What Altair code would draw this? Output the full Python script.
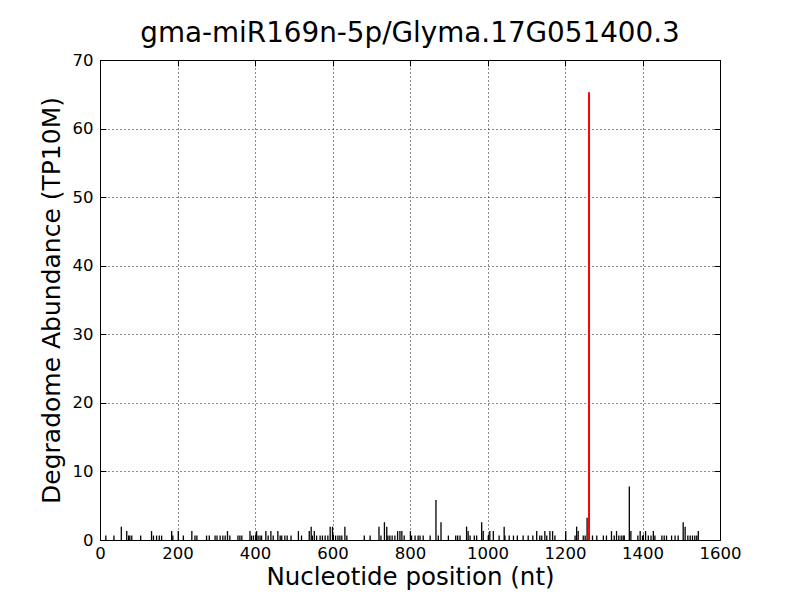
import altair as alt
import pandas as pd

# Degradome tags: nucleotide position and abundance (TP10M)
positions = [15, 36, 55, 69, 74, 77, 82, 105, 133, 138, 146, 153, 159, 185, 188, 202, 215,
             237, 245, 250, 275, 282, 297, 302, 310, 317, 323, 329, 335, 356, 361, 366,
             387, 391, 396, 404, 408, 413, 417, 428, 434, 441, 447, 459, 465, 469, 477,
             483, 493, 512, 520, 540, 545, 548, 553, 559, 568, 574, 581, 588, 594, 600,
             608, 614, 619, 624, 632, 637, 682, 697, 720, 725, 734, 740, 743, 748, 754,
             761, 768, 774, 779, 785, 801, 804, 813, 821, 826, 834, 852, 867, 873, 880,
             899, 918, 923, 929, 946, 950, 955, 966, 972, 985, 989, 1002, 1006, 1015,
             1030, 1043, 1045, 1056, 1067, 1077, 1092, 1105, 1117, 1127, 1135, 1140,
             1148, 1153, 1161, 1168, 1174, 1202, 1226, 1230, 1234, 1247, 1252, 1257,
             1271, 1282, 1299, 1307, 1320, 1327, 1333, 1339, 1345, 1350, 1353, 1366,
             1370, 1388, 1394, 1400, 1408, 1415, 1422, 1428, 1432, 1450, 1456, 1462,
             1475, 1484, 1492, 1505, 1510, 1517, 1523, 1529, 1535, 1540, 1544]
abundance = [0.65, 0.65, 1.95, 1.3, 0.65, 0.65, 0.65, 0.65, 1.3, 0.65, 0.65, 0.65, 0.65, 1.3, 0.65, 1.3, 0.65,
             1.3, 0.65, 0.65, 0.65, 0.65, 0.65, 0.65, 0.65, 0.65, 0.65, 1.3, 0.65, 0.65, 0.65, 0.65,
             1.3, 0.65, 0.65, 1.3, 0.65, 0.65, 0.65, 1.3, 0.65, 1.3, 0.65, 1.3, 0.65, 0.65, 0.65,
             0.65, 0.65, 1.3, 0.65, 1.3, 1.95, 0.65, 1.3, 0.65, 0.65, 0.65, 0.65, 0.65, 1.95, 1.95,
             0.65, 0.65, 0.65, 0.65, 1.95, 0.65, 0.65, 0.65, 1.95, 0.65, 2.6, 1.95, 0.65, 0.65, 0.65,
             0.65, 1.3, 1.3, 1.3, 0.65, 1.3, 0.65, 0.65, 0.65, 0.65, 0.65, 0.65, 5.85, 0.65, 2.6,
             0.65, 0.65, 0.65, 0.65, 1.95, 1.3, 0.65, 0.65, 0.65, 2.6, 1.3, 0.65, 1.3, 1.3,
             0.65, 1.95, 0.65, 0.65, 0.65, 0.65, 0.65, 0.65, 0.65, 1.3, 0.65, 0.65,
             1.3, 0.65, 1.3, 1.3, 0.65, 1.3, 0.65, 1.95, 1.3, 0.65, 0.65, 3.25,
             0.65, 0.65, 0.65, 0.65, 1.3, 0.65, 1.3, 0.65, 0.65, 0.65, 0.65, 7.8,
             1.3, 0.65, 1.3, 0.65, 1.3, 0.65, 0.65, 1.3, 0.65, 0.65, 0.65, 0.65,
             0.65, 0.65, 0.65, 2.6, 1.95, 0.65, 0.65, 0.65, 0.65, 0.65, 1.3]

# miRNA cleavage site
target_pos = [1262]
target_abund = [65.3]

x_ticks = [0, 200, 400, 600, 800, 1000, 1200, 1400, 1600]
y_ticks = [0, 10, 20, 30, 40, 50, 60, 70]

FONT = "DejaVu Sans"

tags = pd.DataFrame({"pos": positions, "abund": abundance})
site = pd.DataFrame({"pos": target_pos, "abund": target_abund})

xscale = alt.Scale(domain=[0, 1600], nice=False, zero=False)
yscale = alt.Scale(domain=[0, 70], nice=False)

grid_kw = dict(grid=True, gridColor="black", gridDash=[1, 3], gridOpacity=0.9, gridWidth=1)

x_bottom = alt.Axis(orient="bottom", values=x_ticks, format="d", offset=-6, tickSize=6,
                    tickColor="black", domain=False, labelFont=FONT, labelFontSize=16.5,
                    labelColor="black", labelPadding=5, labelFlush=False, labelOverlap=False,
                    title="Nucleotide position (nt)", titleFont=FONT, titleFontSize=24.5,
                    titleFontWeight="normal", titleColor="black", titlePadding=4, **grid_kw)
y_left = alt.Axis(orient="left", values=y_ticks, format="d", offset=-6, tickSize=6,
                  tickColor="black", domain=False, labelFont=FONT, labelFontSize=16.5,
                  labelColor="black", labelPadding=7, labelFlush=False, labelOverlap=False,
                  title="Degradome Abundance (TP10M)", titleFont=FONT, titleFontSize=25,
                  titleFontWeight="normal", titleColor="black", titlePadding=8, **grid_kw)
x_top = alt.Axis(orient="top", values=x_ticks, offset=-6, tickSize=6, tickColor="black",
                 domain=False, labels=False, grid=False, title=None)
y_right = alt.Axis(orient="right", values=y_ticks, offset=-6, tickSize=6, tickColor="black",
                   domain=False, labels=False, grid=False, title=None)

black_bars = alt.Chart(tags).mark_rule(color="black", strokeWidth=1.3).encode(
    x=alt.X("pos:Q", scale=xscale, axis=x_bottom),
    y=alt.Y("abund:Q", scale=yscale, axis=y_left),
    y2=alt.datum(0),
)

red_bar = alt.Chart(site).mark_rule(color="#ff0000", strokeWidth=2).encode(
    x=alt.X("pos:Q", scale=xscale, axis=x_top),
    y=alt.Y("abund:Q", scale=yscale, axis=y_right),
    y2=alt.datum(0),
)

chart = alt.layer(black_bars, red_bar).resolve_axis(
    x="independent", y="independent"
).properties(
    width=620,
    height=480,
    title=alt.TitleParams("gma-miR169n-5p/Glyma.17G051400.3", font=FONT, fontSize=27.8,
                          fontWeight="normal", color="black", offset=4),
    autosize=alt.AutoSizeParams(type="none"),
    padding={"left": 92, "top": 52, "right": 72, "bottom": 52},
    background="white",
).configure_view(stroke="black", strokeWidth=1)

chart.save("out.html", embed_options={"renderer": "svg", "actions": False})
